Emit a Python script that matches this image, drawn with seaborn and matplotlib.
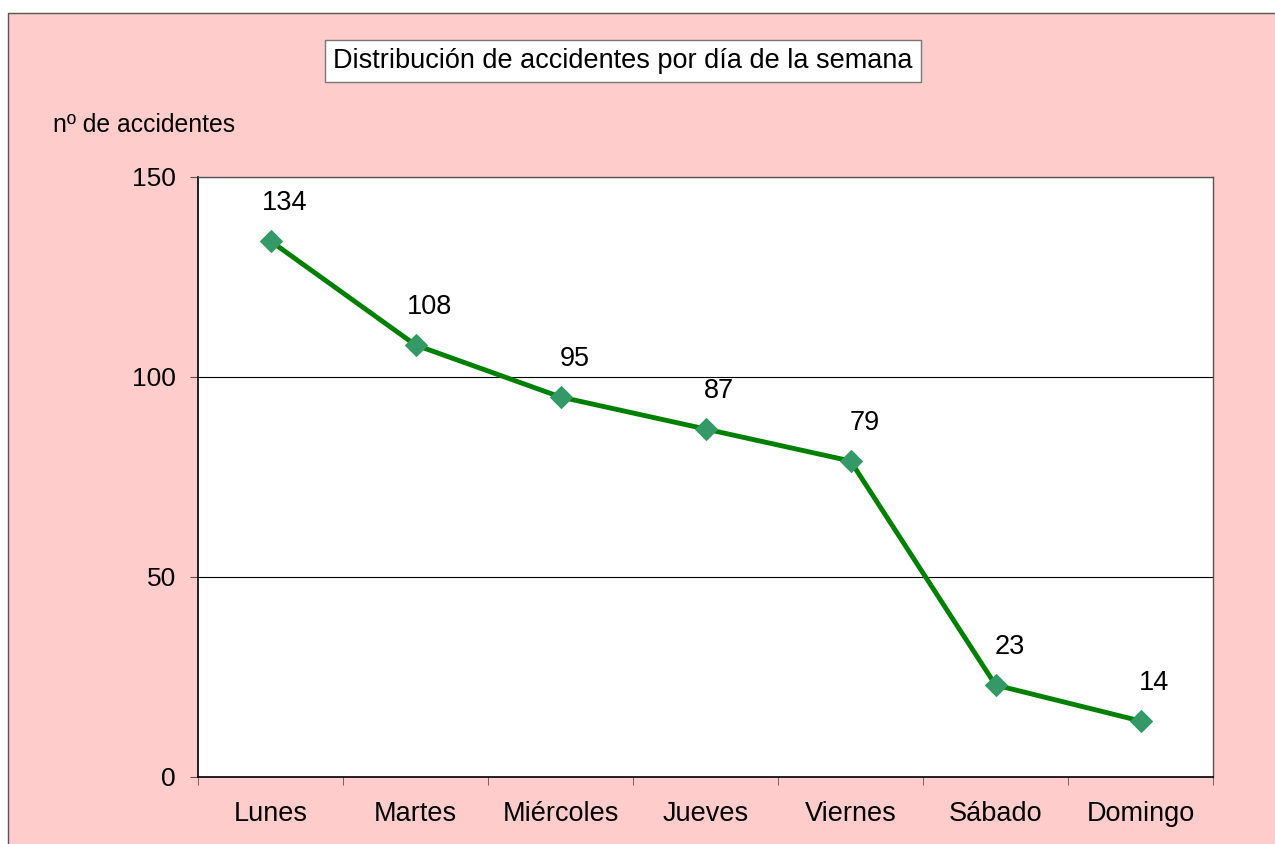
import numpy as np
import pandas as pd
import seaborn as sns
import matplotlib.pyplot as plt
from matplotlib.patches import Rectangle
from matplotlib.ticker import FixedLocator

# data
dias = ["Lunes", "Martes", "Miércoles", "Jueves", "Viernes", "Sábado", "Domingo"]
accidentes = [134, 108, 95, 87, 79, 23, 14]
y_ticks = [0, 50, 100, 150]

df = pd.DataFrame({"dia": dias, "accidentes": accidentes})
df["pos"] = np.arange(len(dias))

sns.set_style("white")
plt.rcParams["font.family"] = ["Liberation Sans", "DejaVu Sans"]
plt.rcParams["text.color"] = "black"
plt.rcParams["xtick.color"] = "black"
plt.rcParams["ytick.color"] = "black"

fig = plt.figure(figsize=(12.75, 8.44), dpi=100, facecolor="white")
# pink chart area with thin border
fig.patches.append(Rectangle((8 / 1275, -0.05), 1.1, 1 - 13 / 844 + 0.05,
                             transform=fig.transFigure, facecolor="#FFCCCC",
                             edgecolor="#555555", linewidth=1, zorder=-5))

ax = fig.add_axes([198 / 1275, 1 - 777 / 844, (1213 - 198) / 1275, (777 - 177) / 844])
ax.set_zorder(2)
ax.set_facecolor("white")

sns.lineplot(data=df, x="pos", y="accidentes", ax=ax, color="#008000",
             linewidth=3.5, marker="D", markersize=11,
             markerfacecolor="#339966", markeredgecolor="#339966", zorder=3)

for x, y in zip(df["pos"], df["accidentes"]):
    ax.annotate(str(y), (x, y), xytext=(10, 18), textcoords="offset points",
                ha="center", va="bottom", fontsize=19.5)

ax.set_xlim(-0.5, len(dias) - 0.5)
ax.set_ylim(0, 150)
ax.yaxis.set_major_locator(FixedLocator(y_ticks))
ax.set_yticklabels([str(t) for t in y_ticks], fontsize=19)
ax.grid(axis="y", color="black", linewidth=0.8)
ax.set_axisbelow(True)

# category labels centered, ticks at boundaries
ax.set_xticks(df["pos"])
ax.set_xticklabels(dias, fontsize=19.5)
ax.tick_params(axis="x", which="major", length=0, pad=17)
ax.set_xticks(np.arange(-0.5, len(dias)), minor=True)
ax.tick_params(axis="x", which="minor", length=6, direction="out", color="#555555", bottom=True)
ax.tick_params(axis="y", length=6, direction="out", color="#555555", left=True, pad=10)

ax.set_xlabel("")
ax.set_ylabel("")
for side in ["left", "bottom"]:
    ax.spines[side].set_color("black")
    ax.spines[side].set_linewidth(1.2)
for side in ["top", "right"]:
    ax.spines[side].set_color("#555555")
    ax.spines[side].set_linewidth(1)

fig.text(623 / 1275, 1 - 61 / 844, "Distribución de accidentes por día de la semana",
         ha="center", va="center", fontsize=19.5,
         bbox=dict(boxstyle="square,pad=0.3", facecolor="white", edgecolor="#777777"))
fig.text(53 / 1275, 1 - 125 / 844, "nº de accidentes", ha="left", va="center", fontsize=17.8)

fig.savefig("out.png", dpi=100, facecolor=fig.get_facecolor())
